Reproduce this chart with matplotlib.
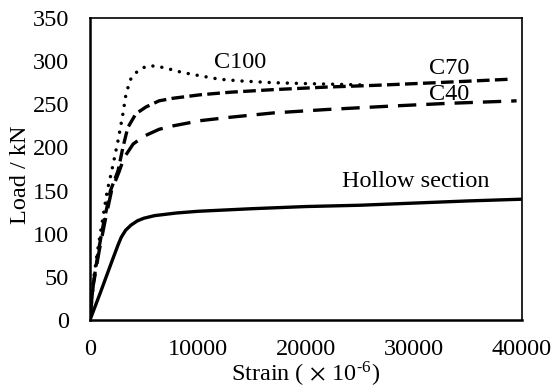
import matplotlib
matplotlib.use("Agg")
import matplotlib.pyplot as plt

plt.rcParams['font.family'] = ['Liberation Serif', 'DejaVu Serif']
plt.rcParams['mathtext.fontset'] = 'stix'

# Load-strain curves (strain in 1e-6, load in kN)
hollow_strain = [0, 1000, 2000, 2600, 2900, 3300, 3800, 4400, 5000, 6000, 8000, 10000, 15000, 20000, 25000, 30000, 35000, 40000]
hollow_load = [0, 33, 67, 87, 96, 104, 110, 115, 118, 121, 124, 126, 129, 131.5, 133, 135.5, 138, 140]

c40_strain = [0, 300, 850, 1400, 2000, 2700, 3150, 4000, 5000, 6400, 7700, 10200, 13000, 17000, 22000, 28000, 33000, 39500]
c40_load = [0, 40, 80, 115, 150, 172, 188, 204, 213, 221, 225, 231, 235, 240, 244, 248, 251, 254]

c70_strain = [0, 280, 780, 1300, 1900, 2600, 3050, 3500, 4250, 5200, 6400, 7700, 10200, 13000, 17000, 22000, 26500, 32000, 38800]
c70_load = [0, 40, 80, 115, 150, 173, 200, 223, 239, 247, 254, 257, 261, 264, 267, 270, 272, 275, 279]

c100_strain = [0, 250, 700, 1150, 1600, 2000, 2600, 3050, 3350, 3800, 4450, 5200, 6100, 7300, 8500, 10200, 12000, 14000, 17000, 20000, 25000]
c100_load = [0, 40, 80, 115, 150, 172, 208, 239, 263, 280, 289, 294, 294.5, 291, 287, 283, 279, 277, 275, 274, 272.5]

fig = plt.figure(figsize=(5.52, 3.87), dpi=100)
ax = fig.add_axes([0.1630, 0.1731, 0.7826, 0.7804])

ax.plot(hollow_strain, hollow_load, color='black', lw=2.4, solid_capstyle='butt')
ax.plot(c40_strain, c40_load, color='black', lw=2.4, dashes=(5.5, 3.0), dash_capstyle='butt')
ax.plot(c70_strain, c70_load, color='black', lw=2.4, dashes=(3.8, 1.6), dash_capstyle='butt')
ax.plot(c100_strain, c100_load, color='black', lw=2.5, dashes=(0.01, 2.6), dash_capstyle='round')

ax.set_xlim(0, 40000)
ax.set_ylim(0, 350)
ax.set_xticks([0, 10000, 20000, 30000, 40000])
ax.set_yticks(range(0, 351, 50))
ax.tick_params(length=0, labelsize=17.5)
ax.tick_params(axis='x', pad=14)
ax.tick_params(axis='y', pad=15)

for s in ['left', 'bottom']:
    ax.spines[s].set_linewidth(1.8)
for s in ['top', 'right']:
    ax.spines[s].set_linewidth(1.2)

ax.set_ylabel('Load / kN', fontsize=17.5)
ax.set_xlabel(r'Strain ($\,\times\,$10$^{\mathregular{\text{-}6}}$)', fontsize=17.5)
ax.yaxis.set_label_coords(-0.136, 0.48)
ax.xaxis.set_label_coords(0.5, -0.13)

ax.text(13900, 298, 'C100', fontsize=17.5, ha='center', va='center')
ax.text(33300, 291, 'C70', fontsize=17.5, ha='center', va='center')
ax.text(33300, 261, 'C40', fontsize=17.5, ha='center', va='center')
ax.text(30200, 161, 'Hollow section', fontsize=17.5, ha='center', va='center')

fig.savefig('out.png', dpi=100)
